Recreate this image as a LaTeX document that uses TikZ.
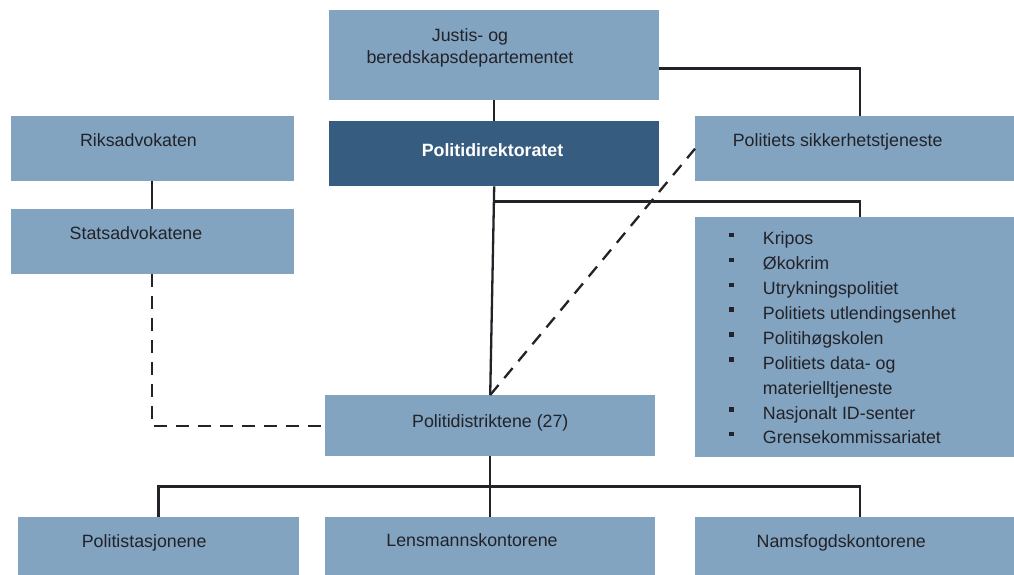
\documentclass[tikz,border=0pt]{standalone}
\usepackage{fontspec}
\setmainfont{Liberation Sans}
\usetikzlibrary{positioning}
\definecolor{boxblue}{RGB}{130,164,192}
\definecolor{dirblue}{RGB}{54,92,128}
\definecolor{ink}{RGB}{34,34,40}
\tikzset{
	box/.style={fill=boxblue, inner sep=0pt, anchor=north west},
	txt/.style={inner sep=0pt, text=ink, font=\fontsize{17.8}{22}\selectfont},
	link/.style={draw=ink, line width=2.3pt},
	dlink/.style={link, dash pattern=on 13pt off 9pt}
}
\newcommand{\blt}{\makebox[33.7pt][l]{\raisebox{7.5pt}{\rule{4.5pt}{4.5pt}}}}

\begin{document}
\begin{tikzpicture}[x=1pt,y=-1pt]
		\useasboundingbox (0,0) rectangle (1014,575);
		% boxes
		\draw (329,9.5) node[box, minimum width=330, minimum height=90.5] (jd) {}
		(329,121) node[box, fill=dirblue, minimum width=330, minimum height=65] (pd) {}
		(10.5,116) node[box, minimum width=283, minimum height=65] (ra) {}
		(10.5,208.5) node[box, minimum width=283, minimum height=65] (sa) {}
		(695,116) node[box, minimum width=330, minimum height=65] (pst) {}
		(695,217) node[box, minimum width=330, minimum height=239.5] (list) {}
		(325,395) node[box, minimum width=330, minimum height=61] (distr) {}
		(17.5,516.7) node[box, minimum width=281.5, minimum height=62] (st) {}
		(325,516.7) node[box, minimum width=330, minimum height=62] (lk) {}
		(695,516.7) node[box, minimum width=330, minimum height=62] (nf) {};
		
		% labels
		\node[txt, align=center, anchor=north] (jd-t) at (470,28.5) {Justis- og\\beredskapsdepartementet};
		\node[txt, anchor=base, text=white, font=\fontsize{17.8}{22}\selectfont\bfseries] (pd-t) at (492.5,157) {Politidirektoratet};
		\node[txt, anchor=base] (ra-t) at (138.5,146.7) {Riksadvokaten};
		\node[txt, anchor=base] (sa-t) at (136,239.5) {Statsadvokatene};
		\node[txt, anchor=base] (pst-t) at (837.7,146.7) {Politiets sikkerhetstjeneste};
		\node[txt, anchor=north west, align=left, font=\fontsize{17.8}{24.9}\selectfont] (list-t) at (729,231.6)
		{\blt Kripos\\
		\blt Økokrim\\
		\blt Utrykningspolitiet\\
		\blt Politiets utlendingsenhet\\
		\blt Politihøgskolen\\
		\blt Politiets data- og\\
		\makebox[33.7pt]{}materielltjeneste\\
		\blt Nasjonalt ID-senter\\
		\blt Grensekommissariatet};
		\node[txt, anchor=base] (distr-t) at (490.3,427.7) {Politidistriktene (27)};
		\node[txt, anchor=base] (st-t) at (144.2,547.3) {Politistasjonene};
		\node[txt, anchor=base] (lk-t) at (472,546.7) {Lensmannskontorene};
		\node[txt, anchor=base] (nf-t) at (841.3,547.3) {Namsfogdskontorene};
		
		% connectors
		\coordinate (bus) at (490,486.5);
		\draw[link] (jd) -- (pd);
		\draw[link] ([yshift=-13.6pt]jd.east) -| (pst.north);
		\draw[link] (pd.south) -- (distr.north);
		\draw[link] ([yshift=-15pt]pd.south) -| (list.north);
		\draw[dlink] (distr.north) -- (pst.west);
		\draw[link] (ra) -- (sa);
		\draw[dlink] (sa.south) |- (distr.west);
		\draw[link] (st.north) |- (bus) -| (nf.north);
		\draw[link] (distr) -- (lk);
	\end{tikzpicture}
\end{document}
